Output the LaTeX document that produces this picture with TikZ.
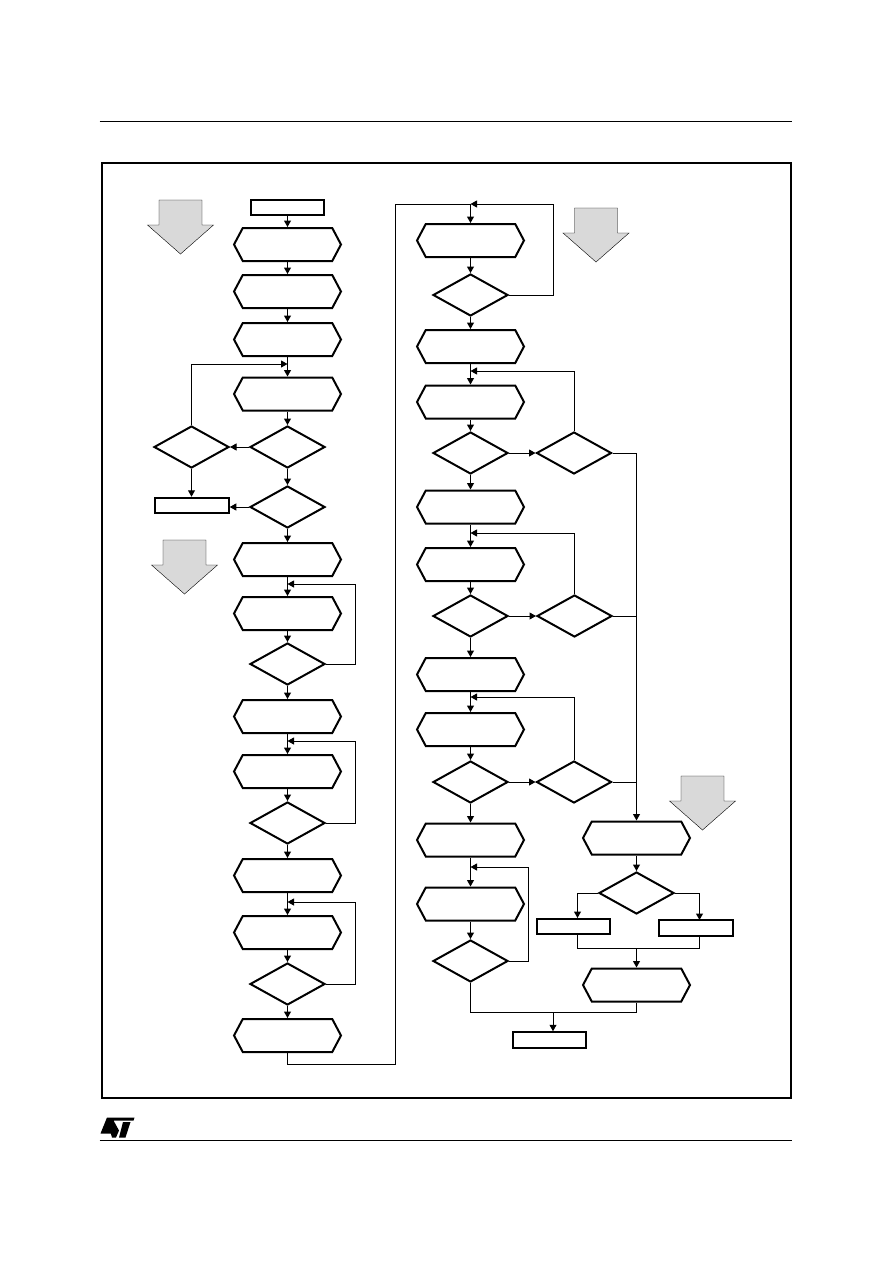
\documentclass[tikz,border=0pt]{standalone}
\usetikzlibrary{arrows.meta,shapes.geometric,shapes.symbols}

\begin{document}
\begin{tikzpicture}[x=1pt, y=-1pt, inner sep=0pt, >={Triangle[length=6.5pt,width=7pt]}]
	\tikzstyle{every path}=[line width=1pt]
	\tikzstyle{hexbox}=[draw, line width=2pt, miter limit=2, signal, signal to=west and east, signal pointer angle=124, minimum width=107pt, minimum height=33pt]
	\tikzstyle{testbox}=[draw, line width=2pt, miter limit=3, diamond, aspect=1.8, minimum width=75pt, minimum height=42pt]
	\tikzstyle{endbox}=[draw, line width=2pt, rectangle, minimum width=73.5pt, minimum height=15.5pt]
	\tikzstyle{greyarrow}=[draw, fill=black!15, line width=.4pt]
	\useasboundingbox (.5,0) rectangle (892.5,1263);

		% page rules and frame
		\draw (100,121.5) -- (792,121.5);
		\draw (100,1140.5) -- (792,1140.5);
		\draw[line width=1.7pt] (102.5,163) rectangle (791.5,1098);

		% logo
		\fill (107.5,1117.5) -- (135,1117.5) -- (134,1120.5) -- (114,1120.5) -- (119.5,1130.5) -- (116.5,1137.5) -- (112.5,1137.5) -- (108.5,1124) -- (111,1133.5) -- (101,1133.5) -- cycle;
		\fill (123.5,1122) -- (131,1122) -- (126,1137.5) -- (119.5,1137.5) -- cycle;

		% grey arrows
		\foreach \ax/\ay in {181/200, 185/540, 596.5/208, 703/776}
			\draw[greyarrow, shift={(\ax,\ay)}] (-21.5,0) -- (21.5,0) -- (21.5,25) -- (33,25) -- (0,54) -- (-33,25) -- (-21.5,25) -- cycle;

		% left column
		\node[endbox] (start) at (288, 207.5) {};
		\node[hexbox] (a1) at (288, 244.5) {};
		\node[hexbox] (a2) at (288, 291.5) {};
		\node[hexbox] (a3) at (288, 339.5) {};
		\node[hexbox] (a4) at (288, 394) {};
		\node[testbox] (t1) at (288, 447) {};
		\node[testbox] (t2) at (192, 447) {};
		\node[testbox] (t3) at (288, 507) {};
		\node[endbox] (err) at (192.5, 505.5) {};
		\node[hexbox] (a5) at (288, 559.5) {};
		\node[hexbox] (a6) at (288, 613.5) {};
		\node[testbox] (t4) at (288, 664) {};
		\node[hexbox] (a7) at (288, 716.5) {};
		\node[hexbox] (a8) at (288, 771.5) {};
		\node[testbox] (t5) at (288, 823) {};
		\node[hexbox] (a9) at (288, 875.5) {};
		\node[hexbox] (a10) at (288, 932.5) {};
		\node[testbox] (t6) at (288, 984) {};
		\node[hexbox] (a11) at (288, 1035.5) {};

		% middle column
		\node[hexbox] (b1) at (471, 240.5) {};
		\node[testbox] (u1) at (471, 295) {};
		\node[hexbox] (b2) at (471, 346.5) {};
		\node[hexbox] (b3) at (471, 402) {};
		\node[testbox] (u2) at (471, 453) {};
		\node[testbox] (v1) at (574.5, 453) {};
		\node[hexbox] (b4) at (471, 507) {};
		\node[hexbox] (b5) at (471, 564.5) {};
		\node[testbox] (u3) at (471, 616) {};
		\node[testbox] (v2) at (575, 616) {};
		\node[hexbox] (b6) at (471, 674.5) {};
		\node[hexbox] (b7) at (471, 729.5) {};
		\node[testbox] (u4) at (471, 782) {};
		\node[testbox] (v3) at (574.5, 782) {};
		\node[hexbox] (b8) at (471, 840) {};
		\node[hexbox] (b9) at (471, 904) {};
		\node[testbox] (u5) at (471, 961) {};

		% right column
		\node[hexbox] (c1) at (637, 838) {};
		\node[testbox] (w1) at (637, 893) {};
		\node[endbox] (w2) at (574, 926.5) {};
		\node[endbox] (w3) at (696.5, 928) {};
		\node[hexbox] (c2) at (637, 985) {};
		\node[endbox] (stop) at (550, 1040) {};

		% loop and junction points
		\coordinate (p1) at (288, 364);
		\coordinate (p2) at (288, 584);
		\coordinate (p3) at (288, 741);
		\coordinate (p4) at (288, 902);
		\coordinate (q1) at (471, 204);
		\coordinate (q2) at (471, 371);
		\coordinate (q3) at (471, 533);
		\coordinate (q4) at (471, 697);
		\coordinate (q5) at (471, 867);
		\coordinate (r1) at (637, 948);
		\coordinate (r2) at (553.5, 1012.5);
		\coordinate (s1) at (637, 453);

		\draw[->] (start.south) -- (a1.north);
		\draw[->] (a1.south) -- (a2.north);
		\draw[->] (a2.south) -- (a3.north);
		\draw[->] (a3.south) -- (a4.north);
		\draw[->] (a4.south) -- (t1.north);
		\draw[->] (t1.west) -- (t2.east);
		\draw[->] (t1.south) -- (t3.north);
		\draw[->] (t2.south) -- (err.north -| t2.south);
		\draw[->] (t3.west) -- (err.east |- t3.west);
		\draw[->] (t3.south) -- (a5.north);
		\draw[->] (t2.north) |- (p1);
		\draw[->] (a5.south) -- (a6.north);
		\draw[->] (a6.south) -- (t4.north);
		\draw[->] (t4.south) -- (a7.north);
		\draw[->] (t4.east) -| (355.5, 584) -- (p2);
		\draw[->] (a7.south) -- (a8.north);
		\draw[->] (a8.south) -- (t5.north);
		\draw[->] (t5.south) -- (a9.north);
		\draw[->] (t5.east) -| (355.5, 741) -- (p3);
		\draw[->] (a9.south) -- (a10.north);
		\draw[->] (a10.south) -- (t6.north);
		\draw[->] (t6.south) -- (a11.north);
		\draw[->] (t6.east) -| (355.5, 902) -- (p4);
		\draw (a11.south) |- (396, 1064) |- (q1);

		\draw[->] (q1) -- (b1.north);
		\draw[->] (b1.south) -- (u1.north);
		\draw[->] (u1.east) -| (553.5, 204) -- (q1);
		\draw[->] (u1.south) -- (b2.north);
		\draw[->] (b2.south) -- (b3.north);
		\draw[->] (b3.south) -- (u2.north);
		\draw[->] (u2.east) -- (v1.west);
		\draw[->] (u2.south) -- (b4.north);
		\draw[->] (v1.north) |- (q2);
		\draw[->] (b4.south) -- (b5.north);
		\draw[->] (b5.south) -- (u3.north);
		\draw[->] (u3.east) -- (v2.west);
		\draw[->] (u3.south) -- (b6.north);
		\draw[->] (v2.north) |- (q3);
		\draw[->] (b6.south) -- (b7.north);
		\draw[->] (b7.south) -- (u4.north);
		\draw[->] (u4.east) -- (v3.west);
		\draw[->] (u4.south) -- (b8.north);
		\draw[->] (v3.north) |- (q4);
		\draw[->] (b8.south) -- (b9.north);
		\draw[->] (b9.south) -- (u5.north);
		\draw[->] (u5.east) -| (528.5, 867) -- (q5);

		\draw (v1.east) -- (s1);
		\draw (v2.east) -- (v2.east -| s1);
		\draw (v3.east) -- (v3.east -| s1);
		\draw[->] (s1) -- (c1.north -| s1);
		\draw[->] (c1.south) -- (w1.north);
		\draw[->] (w1.west) -| (578, 918);
		\draw[->] (w1.east) -| (700, 920);
		\draw (578, 935) |- (700, 948) -- (700, 936);
		\draw[->] (r1) -- (c2.north -| r1);
		\draw (u5.south) |- (r2) -| (c2.south);
		\draw[->] (r2) -- (stop.north -| r2);
	\end{tikzpicture}
\end{document}
